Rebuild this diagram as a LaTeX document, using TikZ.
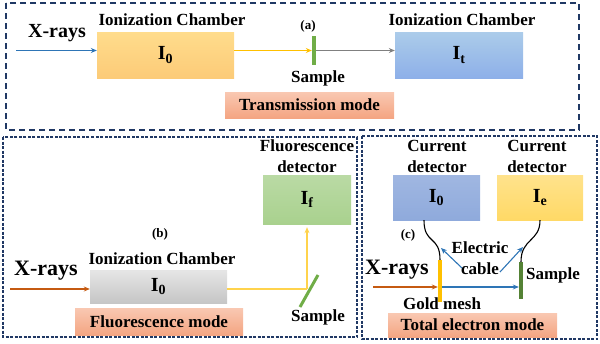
\documentclass[tikz,border=0pt]{standalone}
\usepackage{fontspec}
\setmainfont{Liberation Serif}
\usetikzlibrary{arrows.meta,calc}
\definecolor{navy}{HTML}{203864}
\definecolor{beamblue}{HTML}{2E75B6}
\definecolor{beamorange}{HTML}{C55A11}
\definecolor{gold}{HTML}{FFC000}
\definecolor{sgreen}{HTML}{70AD47}
\definecolor{dgreen}{HTML}{548235}
\definecolor{itblue}{HTML}{9DC3E6}
\definecolor{salmon}{HTML}{F4A582}
\definecolor{salmontop}{HTML}{F9C8B2}
\definecolor{fgreen}{HTML}{A9D18E}
\definecolor{cblue}{HTML}{8FAADC}
\definecolor{cyel}{HTML}{FFD966}
\definecolor{iyeltop}{HTML}{FFDC8C}
\definecolor{iyelbot}{HTML}{FCCB78}
\tikzset{
  frameA/.style={draw=navy,line width=2.1pt,dash pattern=on 6pt off 4pt},
  frameB/.style={draw=navy,line width=1.5pt,dash pattern=on 3pt off 1.5pt},
  box/.style={rectangle,inner sep=0pt,font=\bfseries\fontsize{20}{22}\selectfont},
  modebox/.style={rectangle,inner sep=0pt,minimum width=169pt,top color=salmontop,bottom color=salmon,font=\bfseries\fontsize{17}{19}\selectfont},
  lbl/.style={font=\bfseries\fontsize{17}{21}\selectfont,align=center,inner sep=0pt},
  xr/.style={font=\bfseries\fontsize{#1}{#1}\selectfont,inner sep=0pt},
  tag/.style={font=\bfseries\fontsize{13}{15}\selectfont,inner sep=0pt},
  beam/.style={line width=1.1pt,-{Stealth[length=6pt,width=5pt]}},
  bar/.style={rectangle,inner sep=0pt,minimum width=4pt,fill=#1},
}
\begin{document}
\begin{tikzpicture}[x=1pt,y=-1pt]
\useasboundingbox (0,0) rectangle (600,343);
% frames
\draw[frameA] (6,3) rectangle (579,130);
\draw[frameB] (3,137) rectangle (357,337);
\draw[frameB] (362,136) rectangle (597,339);

% ---------- (a) transmission ----------
\node[box,minimum width=137pt,minimum height=46pt,top color=iyeltop,bottom color=iyelbot] (I0a) at (165.5,55) {I\textsubscript{0}};
\node[box,minimum width=128pt,minimum height=46pt,top color=itblue!85!white,bottom color=itblue!90!blue] (Ita) at (459,55) {I\textsubscript{t}};
\node[lbl] (ica) at (172,20) {Ionization Chamber};
\node[lbl] (icb) at (462,20) {Ionization Chamber};
\node[xr=20] (xra) at (57,33) {X-rays};
\node[bar=sgreen,minimum height=29pt] (sampA) at (314,50.5) {};
\node[tag] (taga) at (308,26) {(a)};
\node[lbl] (sla) at (318,78) {Sample};
\node[modebox,minimum height=26pt] (tm) at (309.5,105) {Transmission mode};
\coordinate (srcA) at (16,50.5);
\draw[beam,beamblue] (srcA) -- (I0a.west |- sampA);
\draw[beam,gold] (I0a.east |- sampA) -- (sampA.west);
\draw[beam,gray] (sampA.east) -- (Ita.west |- sampA);

% ---------- (b) fluorescence ----------
\node[box,minimum width=137pt,minimum height=33pt,top color=gray!20,bottom color=gray!45] (I0b) at (158.5,286.5) {I\textsubscript{0}};
\node[lbl] (icc) at (162,259) {Ionization Chamber};
\node[tag] (tagb) at (160,234) {(b)};
\node[xr=22] (xrb) at (46,271) {X-rays};
\node[box,minimum width=88pt,minimum height=49pt,top color=fgreen!80!white,bottom color=fgreen] (If) at (307,199.5) {I\textsubscript{f}};
\node[lbl] (fdl) at (307,156) {Fluorescence\\detector};
\node[modebox,minimum height=27pt,minimum width=168pt] (fm) at (159,321.5) {Fluorescence mode};
\coordinate (srcB) at (10,289);
\coordinate (sB) at (307,289);
\draw[line width=3pt,sgreen] (300,307) -- (318,275);
\node[lbl] (slb) at (318,317) {Sample};
\draw[beam,beamorange] (srcB) -- (I0b.west |- srcB);
\draw[line width=1.1pt,gold!70!white] (I0b.east |- srcB) -- (sB);
\draw[beam,gold!70!white] (sB) -- ($(If.south)+(0,3)$);

% ---------- (c) total electron ----------
\node[box,minimum width=87pt,minimum height=45pt,top color=cblue!85!white,bottom color=cblue] (cI0) at (436.5,197.5) {I\textsubscript{0}};
\node[box,minimum width=86pt,minimum height=45pt,top color=cyel!75!white,bottom color=cyel] (cIe) at (540,197.5) {I\textsubscript{e}};
\node[lbl] (cdl1) at (437,156.5) {Current\\detector};
\node[lbl] (cdl2) at (537,156.5) {Current\\detector};
\node[tag] (tagc) at (408,235) {(c)};
\node[bar=gold,minimum height=42pt] (mesh) at (440,281) {};
\node[bar=dgreen,minimum height=37pt] (sampC) at (521,280.5) {};
\node[xr=22] (xrc) at (397,270) {X-rays};
\node[lbl] (ecl) at (480,258) {Electric\\cable};
\node[lbl] (slc) at (553,275) {Sample};
\node[lbl] (gml) at (442,304) {Gold mesh};
\node[modebox,minimum height=24pt] (te) at (472.5,325) {Total electron mode};
\coordinate (srcC) at (373,287);
\draw[beam,beamorange] (srcC) -- (mesh.west |- srcC);
\draw[beam,beamblue] (mesh.east |- srcC) -- (sampC.west |- srcC);
\draw[line width=1.1pt,black] ([xshift=-12.5pt]cI0.south) .. controls (424,245) and (440,235) .. (mesh.north);
\draw[line width=1.1pt,black] (cIe.south) .. controls (540,242) and (521,238) .. (sampC.north);
\draw[beam,beamblue] (462,268) -- (441,248);
\draw[beam,beamblue] (500,272) -- (523,247);
\end{tikzpicture}
\end{document}
